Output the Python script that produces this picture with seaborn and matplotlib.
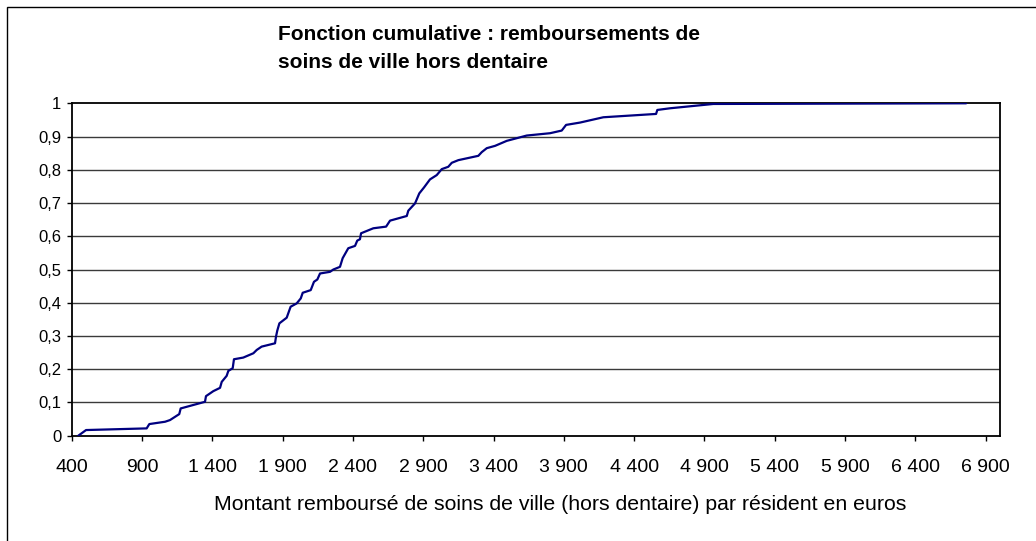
import matplotlib
matplotlib.use("Agg")
import matplotlib.pyplot as plt
import matplotlib.ticker as mticker
from matplotlib.patches import Rectangle
import seaborn as sns

# montant rembourse (euros) et fonction cumulative
montant = [447, 502, 933, 952, 1064, 1099, 1165, 1175, 1348, 1355,
           1407, 1455, 1467, 1502, 1514, 1545, 1554, 1620, 1692, 1716,
           1751, 1846, 1853, 1862, 1877, 1929, 1957, 2000, 2029, 2043,
           2100, 2123, 2147, 2166, 2237, 2261, 2308, 2327, 2367, 2415,
           2431, 2450, 2458, 2545, 2636, 2664, 2783, 2794, 2842, 2872,
           2906, 2948, 2996, 3032, 3078, 3103, 3150, 3292, 3316, 3352,
           3411, 3494, 3636, 3802, 3885, 3916, 4015, 4181, 4556, 4565,
           4655, 4963, 6761]
cumul = [0.0, 0.017, 0.022, 0.035, 0.042, 0.047, 0.065, 0.082, 0.102, 0.119,
         0.134, 0.144, 0.162, 0.180, 0.195, 0.203, 0.230, 0.235, 0.248, 0.258,
         0.268, 0.278, 0.298, 0.316, 0.338, 0.355, 0.388, 0.398, 0.413, 0.430,
         0.438, 0.463, 0.470, 0.488, 0.493, 0.500, 0.508, 0.534, 0.564, 0.571,
         0.587, 0.591, 0.609, 0.624, 0.629, 0.647, 0.661, 0.677, 0.699, 0.729,
         0.747, 0.771, 0.784, 0.802, 0.809, 0.821, 0.829, 0.842, 0.853, 0.865,
         0.872, 0.887, 0.903, 0.910, 0.918, 0.935, 0.942, 0.958, 0.968, 0.980,
         0.985, 0.998, 1.0]
x_ticks = list(range(400, 7400, 500))
y_ticks = [i / 10 for i in range(11)]

sns.set_style("white")
plt.rcParams['font.family'] = ['Liberation Sans', 'DejaVu Sans']
plt.rcParams.update({"text.color": "black", "axes.labelcolor": "black",
                     "xtick.color": "black", "ytick.color": "black"})

W, H = 1036, 541
fig = plt.figure(figsize=(W / 100, H / 100), dpi=100)
ax = fig.add_axes([71.7 / W, 1 - 435.7 / H, (1000 - 71.7) / W, (435.7 - 103.3) / H])

for y in y_ticks[1:-1]:
    ax.axhline(y, color="#3a3a3a", lw=1.0, zorder=1)

sns.lineplot(x=montant, y=cumul, color="#000080", linewidth=1.6,
             sort=False, estimator=None, ax=ax, zorder=3)

ax.set_xlim(400, 7002)
ax.set_ylim(0, 1)
ax.set_xticks(x_ticks)
ax.set_yticks(y_ticks)
ax.xaxis.set_major_formatter(mticker.FuncFormatter(
    lambda v, p: f"{int(v):,}".replace(",", " ")))
ax.yaxis.set_major_formatter(mticker.FuncFormatter(
    lambda v, p: f"{v:g}".replace(".", ",")))
ax.tick_params(axis="both", direction="out", length=3.6, width=1, color="black",
               labelcolor="black", bottom=True, left=True)
ax.tick_params(axis="x", labelsize=14, pad=13)
ax.tick_params(axis="y", labelsize=12, pad=4)
for s in ax.spines.values():
    s.set_color("black")
    s.set_linewidth(1.3)

ax.set_xlabel("Montant remboursé de soins de ville (hors dentaire) par résident en euros",
              fontsize=15.3, color="black")
ax.xaxis.set_label_coords(0.5266, (435.7 - 504) / (435.7 - 103.3))
ax.xaxis.label.set_va("center")

fig.text(278 / W, 1 - 35 / H, "Fonction cumulative : remboursements de",
         fontsize=15, fontweight="bold", va="center", ha="left", color="black")
fig.text(278 / W, 1 - 62 / H, "soins de ville hors dentaire",
         fontsize=15, fontweight="bold", va="center", ha="left", color="black")

fig.patches.append(Rectangle((7 / W, -0.1), 1.2, 1.1 - 7 / H, fill=False,
                             edgecolor="black", lw=1.0,
                             transform=fig.transFigure, figure=fig))

fig.savefig("out.png", dpi=100)
